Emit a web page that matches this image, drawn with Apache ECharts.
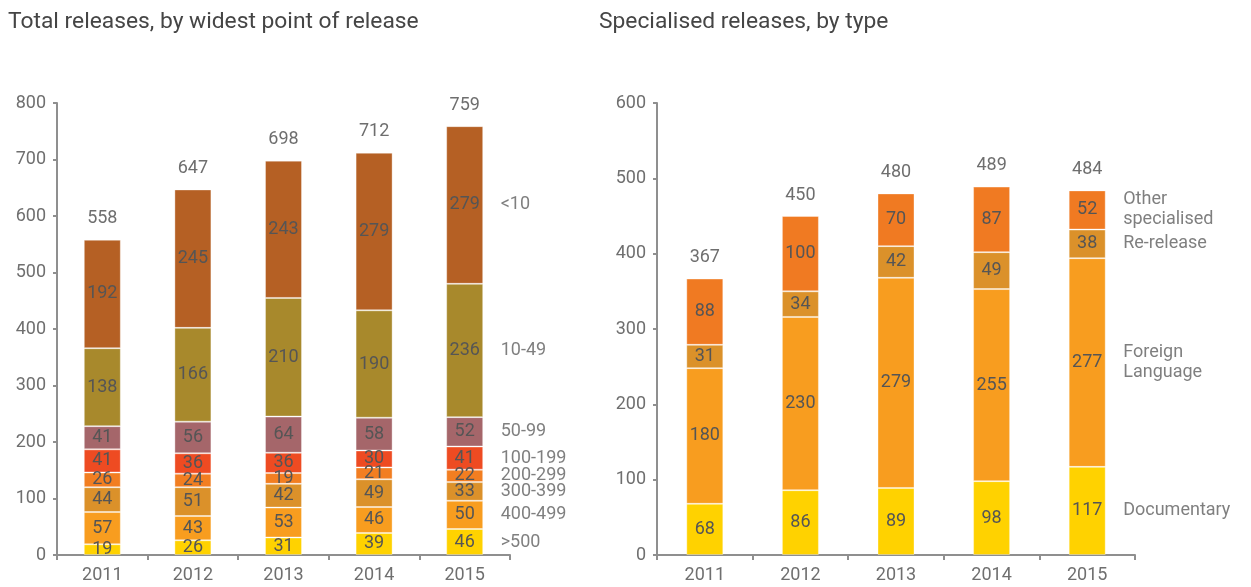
<!DOCTYPE html>
<html>
<head>
<meta charset="utf-8">
<title>Film releases 2011–2015</title>
<script src="https://cdn.jsdelivr.net/npm/echarts@6/dist/echarts.min.js"></script>
<style>
  html, body { margin: 0; padding: 0; background: #fff; }
  #chart { width: 1251px; height: 587px; }
</style>
</head>
<body>
<div id="chart"></div>
<script>
// Release years shared by both panels
const years = ['2011', '2012', '2013', '2014', '2015'];

// Total releases, by widest point of release (bottom segment first)
const widestBands = ['>500', '400-499', '300-399', '200-299', '100-199', '50-99', '10-49', '<10'];
const over500   = [19, 26, 31, 39, 46];
const w400to499 = [57, 43, 53, 46, 50];
const w300to399 = [44, 51, 42, 49, 33];
const w200to299 = [26, 24, 19, 21, 22];
const w100to199 = [41, 36, 36, 30, 41];
const w50to99   = [41, 56, 64, 58, 52];
const w10to49   = [138, 166, 210, 190, 236];
const under10   = [192, 245, 243, 279, 279];
const widestValues = [over500, w400to499, w300to399, w200to299, w100to199, w50to99, w10to49, under10];

// Specialised releases, by type (bottom segment first)
const specTypes = ['Documentary', 'Foreign\nLanguage', 'Re-release', 'Other\nspecialised'];
const documentary = [68, 86, 89, 98, 117];
const foreignLang = [180, 230, 279, 255, 277];
const reRelease   = [31, 34, 42, 49, 38];
const otherSpec   = [88, 100, 70, 87, 52];
const specValues = [documentary, foreignLang, reRelease, otherSpec];

// Axis tick values
const leftTicks = [0, 100, 200, 300, 400, 500, 600, 700, 800];
const rightTicks = [0, 100, 200, 300, 400, 500, 600];

const widestColors = ['#FFD200', '#F89D1F', '#DB912A', '#F27E21', '#EE4B22', '#A5666A', '#A8892C', '#B56024'];
const specColors = ['#FFD200', '#F89D1F', '#DB912A', '#F07A22'];

const FONT = 'Roboto';
const axisGrey = '#8f8f8f';

function totals(groups) {
  return years.map((_, i) => groups.reduce((s, arr) => s + arr[i], 0));
}

// Midpoint of each segment in the last year's stack, used to place the band names
function lastMidpoints(groups) {
  const last = years.length - 1;
  let base = 0;
  return groups.map(arr => {
    const mid = base + arr[last] / 2;
    base += arr[last];
    return mid;
  });
}

function stackSeries(groups, names, colors, axisIndex, stackId) {
  return groups.map((arr, k) => ({
    type: 'bar',
    name: names[k],
    stack: stackId,
    xAxisIndex: axisIndex,
    yAxisIndex: axisIndex,
    barWidth: 37,
    data: arr,
    itemStyle: { color: colors[k], borderColor: 'rgba(255,255,255,0.35)', borderWidth: 1 },
    label: {
      show: true,
      position: 'inside',
      color: '#555555',
      fontFamily: FONT,
      fontSize: 18
    },
    emphasis: { disabled: true }
  }));
}

function totalSeries(groups, axisIndex) {
  return {
    type: 'scatter',
    xAxisIndex: axisIndex,
    yAxisIndex: axisIndex,
    symbolSize: 0,
    silent: true,
    data: totals(groups),
    label: {
      show: true,
      position: 'top',
      distance: 12,
      color: '#4a4a4a',
      fontFamily: FONT,
      fontSize: 18
    },
    z: 5
  };
}

function nameSeries(groups, names, axisIndex) {
  const mids = lastMidpoints(groups);
  const last = years[years.length - 1];
  return {
    type: 'scatter',
    xAxisIndex: axisIndex,
    yAxisIndex: axisIndex,
    symbolSize: 0,
    silent: true,
    data: mids.map((m, k) => ({ value: [last, m], name: names[k] })),
    label: {
      show: true,
      position: 'right',
      distance: 36,
      formatter: p => p.name,
      color: '#5f5f5f',
      fontFamily: FONT,
      fontSize: 18,
      lineHeight: 20,
      align: 'left'
    },
    z: 5
  };
}

function xAxis(gridIndex) {
  return {
    type: 'category',
    gridIndex: gridIndex,
    data: years,
    axisLine: { lineStyle: { color: axisGrey, width: 2 } },
    axisTick: { show: true, length: 5, lineStyle: { color: axisGrey, width: 2 } },
    axisLabel: { color: '#6f6f6f', fontFamily: FONT, fontSize: 18, margin: 11 }
  };
}

function yAxis(gridIndex, ticks) {
  return {
    type: 'value',
    gridIndex: gridIndex,
    min: ticks[0],
    max: ticks[ticks.length - 1],
    interval: ticks[1] - ticks[0],
    splitLine: { show: false },
    axisLine: { show: true, lineStyle: { color: axisGrey, width: 2 } },
    axisTick: { show: true, length: 4, lineStyle: { color: axisGrey, width: 2 } },
    axisLabel: { color: '#6f6f6f', fontFamily: FONT, fontSize: 18, margin: 11 }
  };
}

const chart = echarts.init(document.getElementById('chart'), null, { renderer: 'canvas' });

chart.setOption({
  animation: false,
  backgroundColor: '#ffffff',
  title: [
    {
      text: 'Total releases, by widest point of release',
      left: 3, top: 6,
      textStyle: { color: '#454545', fontFamily: FONT, fontSize: 22.8, fontWeight: 'normal' }
    },
    {
      text: 'Specialised releases, by type',
      left: 594, top: 6,
      textStyle: { color: '#454545', fontFamily: FONT, fontSize: 22.8, fontWeight: 'normal' }
    }
  ],
  grid: [
    { left: 57, right: 741, top: 103, bottom: 32 },
    { left: 657, right: 116, top: 103, bottom: 32 }
  ],
  xAxis: [xAxis(0), xAxis(1)],
  yAxis: [yAxis(0, leftTicks), yAxis(1, rightTicks)],
  series: [
    ...stackSeries(widestValues, widestBands, widestColors, 0, 'widest'),
    totalSeries(widestValues, 0),
    nameSeries(widestValues, widestBands, 0),
    ...stackSeries(specValues, specTypes, specColors, 1, 'spec'),
    totalSeries(specValues, 1),
    nameSeries(specValues, specTypes, 1)
  ]
});
</script>
</body>
</html>
